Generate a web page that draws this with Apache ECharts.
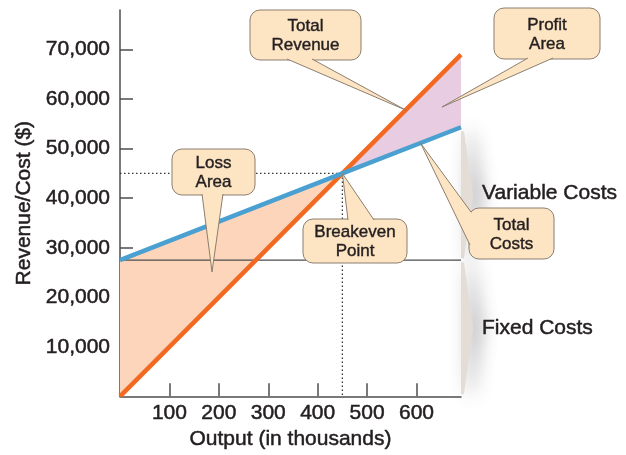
<!DOCTYPE html>
<html>
<head>
<meta charset="utf-8">
<script src="https://cdn.jsdelivr.net/npm/echarts@6/dist/echarts.min.js"></script>
<style>
html, body { margin: 0; padding: 0; background: #fff; }
#chart { width: 626px; height: 455px; }
</style>
</head>
<body>
<div id="chart"></div>
<script>
// data
var outputX = [0, 450, 690];
var revenue = [0, 45000, 69000];
var totalCosts = [27500, 45000, 54333];
var fixedCosts = [27500, 27500, 27500];
var breakeven = [450, 45000];
var xTicks = [100, 200, 300, 400, 500, 600];
var yTicks = [10000, 20000, 30000, 40000, 50000, 60000, 70000];

var font = "Liberation Sans, Arial, sans-serif";
var textColor = "#231f20";
var axisColor = "#4d4d4d";
// a thin outline in the text colour makes the regular face look like a medium weight
var heavy = { textBorderColor: textColor, textBorderWidth: 0.5 };

function pairs(xs, ys) {
    var out = [];
    for (var i = 0; i < xs.length; i++) {
        out.push([xs[i], ys[i]]);
    }
    return out;
}

// loss / profit areas between the two lines
var areas = [
    [[outputX[0], revenue[0]], [outputX[0], totalCosts[0]], [outputX[1], totalCosts[1]]],
    [[outputX[1], revenue[1]], [outputX[2], revenue[2]], [outputX[2], totalCosts[2]]]
];
var areaColors = ["#fdd5bb", "#e8cce1"];

var chart = echarts.init(document.getElementById("chart"));

var option = {
    animation: false,
    grid: {
        left: 120,
        top: 10,
        right: 165,
        bottom: 58
    },
    xAxis: {
        type: "value",
        min: 0,
        max: 690,
        name: "Output (in thousands)",
        nameLocation: "middle",
        nameGap: 32,
        nameTextStyle: Object.assign({ fontFamily: font, fontSize: 21, color: textColor }, heavy),
        axisLine: { lineStyle: { color: axisColor, width: 1.5 } },
        axisTick: {
            show: true,
            inside: true,
            length: 13,
            customValues: xTicks,
            lineStyle: { color: axisColor, width: 1.5 }
        },
        axisLabel: Object.assign({
            customValues: xTicks,
            fontFamily: font,
            fontSize: 21,
            color: textColor,
            margin: 6
        }, heavy),
        splitLine: { show: false }
    },
    yAxis: {
        type: "value",
        min: 0,
        max: 78000,
        name: "Revenue/Cost ($)",
        nameLocation: "middle",
        nameGap: 84,
        nameTextStyle: Object.assign({ fontFamily: font, fontSize: 21, color: textColor }, heavy),
        axisLine: { lineStyle: { color: axisColor, width: 1.5 } },
        axisTick: {
            show: true,
            inside: true,
            length: 13,
            customValues: yTicks,
            lineStyle: { color: axisColor, width: 1.5 }
        },
        axisLabel: Object.assign({
            customValues: yTicks,
            fontFamily: font,
            fontSize: 21,
            color: textColor,
            margin: 10,
            formatter: function(v) {
                return String(v).replace(/\B(?=(\d{3})+(?!\d))/g, ",");
            }
        }, heavy),
        splitLine: { show: false }
    },
    series: [
        {
            type: "custom",
            z: 1,
            silent: true,
            data: [[0, 0], [0, 0]],
            renderItem: function(params, api) {
                var pts = areas[params.dataIndex].map(function(p) {
                    return api.coord(p);
                });
                return {
                    type: "polygon",
                    shape: { points: pts },
                    style: { fill: areaColors[params.dataIndex] }
                };
            }
        },
        {
            type: "line",
            z: 2,
            symbol: "none",
            data: pairs(outputX, fixedCosts),
            lineStyle: { color: axisColor, width: 1.3 }
        },
        {
            type: "line",
            z: 2,
            symbol: "none",
            data: [[0, breakeven[1]], breakeven],
            lineStyle: { color: "#333", width: 1.3, type: [1.5, 2.5] }
        },
        {
            type: "line",
            z: 2,
            symbol: "none",
            data: [breakeven, [breakeven[0], 0]],
            lineStyle: { color: "#333", width: 1.3, type: [1.5, 2.5] }
        },
        {
            name: "Total Revenue",
            type: "line",
            z: 3,
            symbol: "none",
            data: pairs(outputX, revenue),
            lineStyle: { color: "#f26a21", width: 4.5 }
        },
        {
            name: "Total Costs",
            type: "line",
            z: 4,
            symbol: "none",
            data: pairs(outputX, totalCosts),
            lineStyle: { color: "#4aa0d0", width: 4.5 }
        }
    ]
};

chart.setOption(option);

// callouts and braces, placed after the grid exists
function px(p) {
    return chart.convertToPixel({ gridIndex: 0 }, p);
}

var boxFill = "#fde4c2";
var boxStroke = "#8c7e70";

function callout(box, base, tip, text) {
    return {
        type: "group",
        children: [
            {
                type: "rect",
                z: 10,
                shape: { x: box[0], y: box[1], width: box[2], height: box[3], r: 10 },
                style: { fill: boxFill, stroke: boxStroke, lineWidth: 1 }
            },
            {
                type: "polygon",
                z: 11,
                shape: { points: [base[0], base[1], tip] },
                style: { fill: boxFill }
            },
            {
                type: "polyline",
                z: 12,
                shape: { points: [base[0], tip, base[1]] },
                style: { stroke: boxStroke, lineWidth: 1, fill: null }
            },
            {
                type: "text",
                z: 13,
                x: box[0] + box[2] / 2,
                y: box[1] + box[3] / 2 + 1,
                style: Object.assign({
                    text: text,
                    fontFamily: font,
                    fontSize: 17,
                    lineHeight: 19,
                    fill: textColor,
                    align: "center",
                    verticalAlign: "middle"
                }, { stroke: textColor, lineWidth: 0.4 })
            }
        ]
    };
}

function brace(top, bottom, xEdge) {
    var mid = (top + bottom) / 2;
    return {
        type: "polygon",
        z: 5,
        shape: {
            points: [[xEdge, top], [xEdge + 3, top], [xEdge + 12, mid], [xEdge + 3, bottom], [xEdge, bottom]]
        },
        style: {
            fill: "#e4ddd5",
            shadowBlur: 18,
            shadowOffsetX: 8,
            shadowColor: "rgba(60,60,70,0.45)"
        }
    };
}

var endTop = px([outputX[2], totalCosts[2]]);
var endFixed = px([outputX[2], fixedCosts[2]]);
var endZero = px([outputX[2], 0]);
var bePx = px(breakeven);
var revTip = px([578, 57800]);
var costTip = px([608, 51150]);

var sideText = { fontFamily: font, fontSize: 21, fill: textColor, verticalAlign: "middle", stroke: textColor, lineWidth: 0.5 };

chart.setOption({
    graphic: [
        brace(endTop[1] + 4, endFixed[1] - 2, endTop[0]),
        brace(endFixed[1] + 2, endZero[1] - 2, endTop[0]),
        {
            type: "text",
            x: 482,
            y: (endTop[1] + endFixed[1]) / 2,
            style: Object.assign({ text: "Variable Costs" }, sideText)
        },
        {
            type: "text",
            x: 482,
            y: (endFixed[1] + endZero[1]) / 2,
            style: Object.assign({ text: "Fixed Costs" }, sideText)
        },
        callout([250, 10, 111, 50], [[287, 59], [312, 59]], revTip, "Total\nRevenue"),
        callout([494, 8, 106, 51], [[528, 58], [553, 58]], [442, 107], "Profit\nArea"),
        callout([172, 149, 83, 46], [[202, 194], [223, 194]], [212, 272], "Loss\nArea"),
        callout([303, 219, 104, 44], [[348, 220], [374, 220]], bePx, "Breakeven\nPoint"),
        callout([469, 208, 85, 51], [[470, 245], [471, 212]], costTip, "Total\nCosts")
    ]
});
</script>
</body>
</html>
